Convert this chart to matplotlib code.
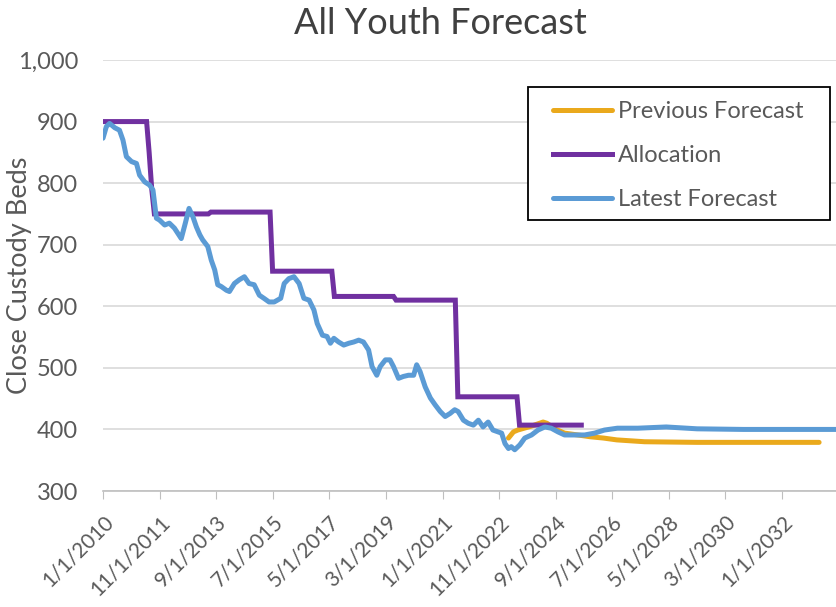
import pandas as pd
import matplotlib
matplotlib.use('Agg')
import matplotlib.pyplot as plt
from matplotlib.ticker import FuncFormatter
from matplotlib.patches import Rectangle
from matplotlib.transforms import ScaledTranslation

# Latest forecast (blue)
latest_dates = ['2010-01-01', '2010-02-10', '2010-03-20', '2010-05-20', '2010-07-15', '2010-08-25',
                '2010-10-05', '2010-12-05', '2011-02-01', '2011-03-10', '2011-05-10', '2011-07-05',
                '2011-08-15', '2011-09-25', '2011-11-01', '2012-01-01', '2012-02-25', '2012-04-25',
                '2012-07-15', '2012-09-01', '2012-10-15', '2012-12-01', '2013-01-10', '2013-02-20',
                '2013-03-25', '2013-05-25', '2013-07-05', '2013-08-15', '2013-09-20', '2013-11-01',
                '2014-01-01', '2014-02-05', '2014-04-05', '2014-06-01', '2014-08-01', '2014-09-25',
                '2014-11-25', '2015-01-25', '2015-03-20', '2015-05-20', '2015-07-20', '2015-10-05',
                '2015-11-15', '2016-01-10', '2016-03-10', '2016-05-10', '2016-07-05', '2016-09-05',
                '2016-11-01', '2016-12-10', '2017-02-10', '2017-04-05', '2017-05-15', '2017-06-25',
                '2017-08-20', '2017-10-20', '2017-12-20', '2018-02-15', '2018-04-15', '2018-06-10',
                '2018-08-10', '2018-09-20', '2018-11-15', '2018-12-25', '2019-02-25', '2019-04-20',
                '2019-06-01', '2019-07-30', '2019-09-25', '2019-11-25', '2020-01-25', '2020-03-01',
                '2020-04-10', '2020-06-10', '2020-08-10', '2020-10-05', '2020-12-05', '2021-02-01',
                '2021-04-01', '2021-05-25', '2021-07-05', '2021-09-05', '2021-11-01', '2022-01-01',
                '2022-03-01', '2022-04-25', '2022-06-25', '2022-08-20', '2022-10-20', '2022-12-01',
                '2023-01-10', '2023-02-20', '2023-03-25', '2023-05-05', '2023-07-05', '2023-09-01',
                '2023-11-20', '2024-02-05', '2024-04-25', '2024-07-10', '2024-09-28', '2024-12-15',
                '2025-04-15', '2025-08-10', '2025-12-05', '2026-04-01', '2026-09-01', '2027-05-01',
                '2028-04-01', '2029-04-01', '2030-10-01', '2033-10-01']
latest_values = [873, 892, 897, 890, 886, 870,
                 843, 835, 832, 813, 802, 797,
                 789, 743, 740, 732, 735, 727,
                 710, 735, 759, 745, 729, 716,
                 708, 697, 675, 659, 635, 632,
                 626, 624, 637, 643, 648, 637,
                 635, 618, 613, 607, 607, 613,
                 637, 645, 648, 637, 613, 610,
                 594, 572, 553, 551, 540, 548,
                 542, 537, 540, 542, 545, 542,
                 529, 502, 488, 502, 513, 513,
                 502, 483, 486, 488, 488, 505,
                 494, 469, 451, 440, 429, 421,
                 426, 432, 429, 415, 410, 407,
                 415, 404, 412, 399, 396, 394,
                 377, 369, 372, 367, 375, 386,
                 391, 399, 404, 402, 396, 391,
                 391, 391, 394, 399, 402, 402,
                 404, 401, 400, 400]

# Previous forecast (orange)
previous_dates = ['2023-02-20', '2023-04-20', '2023-06-10', '2023-11-10', '2024-04-05', '2024-05-20',
                  '2024-09-05', '2024-12-15', '2025-05-20', '2025-10-20', '2026-03-20', '2026-08-25',
                  '2027-07-20', '2029-04-01', '2033-03-15']
previous_values = [386, 396, 399, 405, 412, 410,
                   400, 394, 391, 388, 386, 383,
                   380, 379, 379]

# Allocation (purple)
alloc_dates = ['2010-01-01', '2011-06-01', '2011-07-01', '2011-08-01', '2011-09-01', '2013-06-01',
               '2013-07-01', '2015-06-01', '2015-07-01', '2017-06-01', '2017-07-01', '2019-06-01',
               '2019-07-01', '2021-06-01', '2021-07-01', '2023-06-01', '2023-07-01', '2025-07-01']
alloc_values = [900, 900, 850, 790, 750, 750,
                753, 753, 657, 657, 616, 616,
                610, 610, 453, 453, 407, 407]

tick_dates = pd.date_range('2010-01-01', periods=13, freq='22MS')

plt.rcParams['font.family'] = ['Lato', 'DejaVu Sans']
text_color = '#595959'
lw = 3.6

fig = plt.figure(figsize=(8.36, 6.07), dpi=100)
ax = fig.add_axes([103 / 836, 1 - 491 / 607, 1 - 103 / 836, (491 - 60) / 607])

ax.plot(pd.to_datetime(previous_dates), previous_values, color='#EAA91C', lw=lw,
        label='Previous Forecast', solid_capstyle='round')
ax.plot(pd.to_datetime(alloc_dates), alloc_values, color='#7030A0', lw=lw,
        label='Allocation', solid_joinstyle='miter')
ax.plot(pd.to_datetime(latest_dates), latest_values, color='#5B9BD5', lw=lw,
        label='Latest Forecast', solid_capstyle='round')

ax.set_ylim(300, 1000)
ax.set_yticks(range(300, 1001, 100))
ax.yaxis.set_major_formatter(FuncFormatter(lambda v, p: f'{int(v):,}'))
ax.set_xlim(pd.Timestamp('2010-01-01'), pd.Timestamp('2033-10-01'))
ax.set_xticks(tick_dates)
ax.set_xticklabels([f'{d.month}/{d.day}/{d.year}' for d in tick_dates],
                   rotation=45, ha='right', rotation_mode='anchor')
shift = ScaledTranslation(0.06, 0, fig.dpi_scale_trans)
for lab in ax.get_xticklabels():
    lab.set_transform(lab.get_transform() + shift)

ax.grid(axis='y', color='#D9D9D9', lw=1.2)
ax.set_axisbelow(True)
for s in ['top', 'right', 'left']:
    ax.spines[s].set_visible(False)
ax.spines['bottom'].set_color('#BFBFBF')
ax.spines['bottom'].set_linewidth(1.2)
ax.tick_params(axis='y', length=0, labelsize=17, colors=text_color, pad=18)
ax.tick_params(axis='x', length=6, color='#BFBFBF', labelsize=15, labelcolor=text_color, pad=9)

ax.set_ylabel('Close Custody Beds', fontsize=19.5, color=text_color)
ax.yaxis.set_label_coords(-0.097, 0.5)
fig.text(440 / 836, 1 - 24 / 607, 'All Youth Forecast', ha='center', va='center',
         fontsize=26, color='#404040')

# legend box
ax.add_patch(Rectangle((528 / 836, 1 - 220 / 607), 302 / 836, 133 / 607,
                       transform=fig.transFigure, facecolor='white',
                       edgecolor='black', lw=1.3, zorder=5, clip_on=False))
leg = ax.legend(loc='upper left', bbox_to_anchor=(553 / 836, 1 - 101 / 607),
                bbox_transform=fig.transFigure, fontsize=17, frameon=False,
                handlelength=2.5, handletextpad=0.25, labelspacing=0.97,
                borderpad=0, borderaxespad=0, labelcolor=text_color)
leg.set_zorder(6)

fig.savefig('out.png', dpi=100)
